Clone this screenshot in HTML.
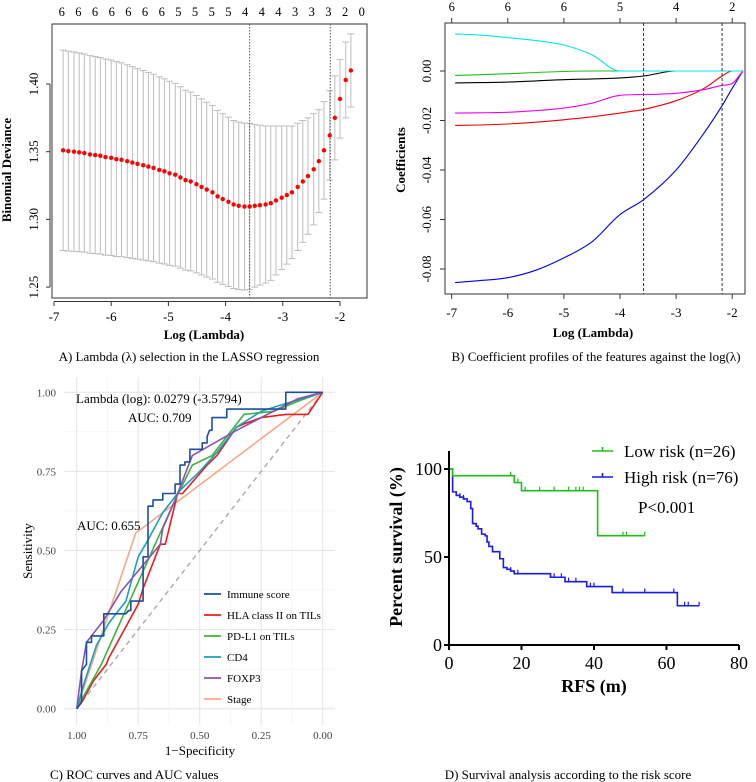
<!DOCTYPE html>
<html><head><meta charset="utf-8"><style>
html,body{margin:0;padding:0;background:#fff;}
svg{display:block;font-family:"Liberation Serif",serif;}
</style></head><body>
<svg id="fig" width="756" height="782" viewBox="0 0 756 782" xmlns="http://www.w3.org/2000/svg">
<g id="pa"></g>
<g id="pb"></g>
<g id="pc"></g>
<g id="pd"></g>
</svg>
<script>
// ---------- Panel A data ----------
const aLogLambda = [-6.84,-6.75,-6.65,-6.56,-6.47,-6.37,-6.28,-6.19,-6.10,-6.00,-5.91,-5.82,-5.72,-5.63,-5.54,-5.44,-5.35,-5.26,-5.16,-5.07,-4.98,-4.88,-4.79,-4.70,-4.61,-4.51,-4.42,-4.33,-4.23,-4.14,-4.05,-3.95,-3.86,-3.77,-3.67,-3.58,-3.49,-3.40,-3.30,-3.21,-3.12,-3.02,-2.93,-2.84,-2.74,-2.65,-2.56,-2.46,-2.37,-2.28,-2.18,-2.09,-2.00,-1.90,-1.81];
const aDeviance = [1.351,1.3505,1.350,1.3495,1.349,1.348,1.3475,1.347,1.346,1.3455,1.3445,1.344,1.343,1.342,1.341,1.340,1.339,1.338,1.3365,1.3355,1.334,1.333,1.331,1.329,1.328,1.326,1.324,1.322,1.320,1.317,1.315,1.313,1.311,1.310,1.3095,1.3095,1.310,1.3105,1.311,1.312,1.314,1.316,1.318,1.320,1.324,1.328,1.332,1.337,1.343,1.351,1.362,1.375,1.389,1.403,1.410];
const aSE = [0.074,0.0738,0.0736,0.0734,0.0732,0.073,0.0728,0.0726,0.0724,0.0722,0.072,0.0716,0.0712,0.0708,0.0704,0.070,0.0696,0.0692,0.0688,0.0684,0.068,0.0675,0.067,0.0665,0.066,0.0655,0.065,0.0645,0.064,0.0635,0.063,0.0625,0.062,0.0618,0.0616,0.0614,0.060,0.059,0.058,0.057,0.055,0.053,0.051,0.049,0.047,0.045,0.043,0.041,0.038,0.036,0.033,0.031,0.029,0.028,0.027];
const aTopLabels = ["6","6","6","6","6","6","6","5","5","5","5","4","4","4","3","3","3","2","0"];
const aXTicks = [-7,-6,-5,-4,-3,-2];
const aYTicks = [1.25,1.30,1.35,1.40];
const aVLines = [-3.58,-2.17];

// ---------- Panel B data ----------
const bGrid = [-6.94,-6.5,-6,-5.5,-5,-4.5,-4,-3.58,-3,-2.5,-2.18,-2,-1.81];
const bCyan = [0.015,0.0145,0.0135,0.0123,0.0105,0.0065,0,0,0,0,0,0,0];
const bGreen = [-0.0018,-0.0015,-0.0011,-0.0006,-0.0002,0,0,0,0,0,0,0,0];
const bBlack = [-0.0048,-0.0047,-0.0045,-0.004,-0.0035,-0.0032,-0.0028,-0.002,0,0,0,0,0];
const bMagenta = [-0.017,-0.0169,-0.0167,-0.016,-0.015,-0.013,-0.0098,-0.0095,-0.009,-0.0075,-0.0058,-0.005,0];
const bRed = [-0.022,-0.0218,-0.0214,-0.0207,-0.0197,-0.0185,-0.017,-0.0155,-0.012,-0.007,-0.002,0,0];
const bBlue = [-0.0855,-0.0847,-0.0835,-0.0805,-0.0755,-0.069,-0.058,-0.052,-0.040,-0.025,-0.014,-0.007,0];
const bTopTicks = [-7,-6,-5,-4,-3,-2];
const bTopLabels = ["6","6","6","5","4","2"];
const bXTicks = [-7,-6,-5,-4,-3,-2];
const bYTicks = [0,-0.02,-0.04,-0.06,-0.08];
const bYLabels = ["0.00","-0.02","-0.04","-0.06","-0.08"];
const bVLines = [-3.58,-2.18];

// ---------- Panel C data (specificity, sensitivity) ----------
const cImmuneSpec = [1,0.98,0.98,0.96,0.96,0.94,0.94,0.89,0.89,0.80,0.79,0.78,0.78,0.73,0.73,0.71,0.71,0.69,0.69,0.65,0.65,0.60,0.60,0.58,0.58,0.56,0.56,0.54,0.54,0.49,0.49,0.47,0.47,0.46,0.45,0.45,0.39,0.39,0.15,0.15,0];
const cImmuneSens = [0,0.02,0.12,0.14,0.21,0.21,0.23,0.23,0.30,0.30,0.31,0.31,0.34,0.34,0.48,0.48,0.64,0.64,0.66,0.66,0.68,0.68,0.71,0.71,0.77,0.77,0.78,0.78,0.82,0.82,0.84,0.84,0.86,0.88,0.88,0.92,0.92,0.947,0.947,1,1];
const cHlaSpec = [1,0.98,0.93,0.88,0.87,0.75,0.73,0.66,0.64,0.59,0.57,0.47,0.43,0.35,0.32,0.25,0.15,0.06,0];
const cHlaSens = [0,0.02,0.09,0.14,0.16,0.33,0.38,0.52,0.52,0.68,0.68,0.77,0.80,0.89,0.90,0.92,0.93,0.93,1];
const cPdl1Spec = [1,0.9,0.75,0.6,0.53,0.45,0.32,0.2,0.106,0];
const cPdl1Sens = [0,0.14,0.40,0.66,0.77,0.80,0.93,0.94,0.97,1];
const cCd4Spec = [1,0.97,0.92,0.87,0.80,0.75,0.72,0.65,0.58,0.50,0.43,0.35,0.25,0.17,0];
const cCd4Sens = [0,0.08,0.20,0.27,0.34,0.48,0.52,0.62,0.69,0.75,0.81,0.89,0.94,0.96,1];
const cFoxp3Spec = [1,0.98,0.96,0.89,0.82,0.66,0.65,0.60,0.53,0.35,0.1,0];
const cFoxp3Sens = [0,0.12,0.21,0.28,0.37,0.52,0.57,0.66,0.80,0.88,0.98,1];
const cStageSpec = [1,0.76,0];
const cStageSens = [0,0.555,1];
const cTicks = [0,0.25,0.5,0.75,1];
const cTickLabels = ["0.00","0.25","0.50","0.75","1.00"];
const cLegendNames = ["Immune score","HLA class II on TILs","PD-L1 on TILs","CD4","FOXP3","Stage"];

// ---------- Panel D data ----------
const dLowTimes = [0,1,18,20,41,54];
const dLowSurv = [100,96.2,92.3,87.7,62.1,62.1];
const dLowCensor = [17,19,21,25,29,33,35,36,37,48,49,54];
const dHighTimes = [0,1,2,3,4,5,6,6.5,7.5,8,9,10,10.5,11,12,14,15,16,17,18,28,32,38,45,63,69];
const dHighSurv = [100,87,85,84,83,81.5,77.5,69,67.5,66,63,62,58.5,56,53,49,44,43,42,40.5,38.5,36,33.2,29.8,22.3,22.3];
const dHighCensor = [3,4,17,19,28,29,31,33,35,39,40,48,54,62,65,66,69];
const dXTicks = [0,20,40,60,80];
const dYTicks = [0,50,100];

const NS = "http://www.w3.org/2000/svg";
function mk(parent, tag, attrs, text){
  const e = document.createElementNS(NS, tag);
  for (const k in attrs) e.setAttribute(k, attrs[k]);
  if (text !== undefined) e.textContent = text;
  parent.appendChild(e);
  return e;
}
// monotone cubic path through pixel points (x increasing)
function monoPath(px, py){
  const n = px.length, dx=[], m=[], t=[];
  for (let i=0;i<n-1;i++){ dx.push(px[i+1]-px[i]); m.push((py[i+1]-py[i])/(px[i+1]-px[i])); }
  t.push(m[0]);
  for (let i=1;i<n-1;i++){ t.push(m[i-1]*m[i]<=0 ? 0 : (m[i-1]+m[i])/2); }
  t.push(m[n-2]);
  for (let i=0;i<n-1;i++){
    if (m[i]===0){ t[i]=0; t[i+1]=0; continue; }
    const a=t[i]/m[i], b=t[i+1]/m[i], s=a*a+b*b;
    if (s>9){ const k=3/Math.sqrt(s); t[i]=k*a*m[i]; t[i+1]=k*b*m[i]; }
  }
  let d = `M${px[0].toFixed(1)},${py[0].toFixed(1)}`;
  for (let i=0;i<n-1;i++){
    const h=dx[i]/3;
    d += `C${(px[i]+h).toFixed(1)},${(py[i]+t[i]*h).toFixed(1)} ${(px[i+1]-h).toFixed(1)},${(py[i+1]-t[i+1]*h).toFixed(1)} ${px[i+1].toFixed(1)},${py[i+1].toFixed(1)}`;
  }
  return d;
}

// ================= Panel A =================
(function(){
  const g = document.getElementById('pa');
  const X = v => 54 + (v + 7) * 57.2;
  const Y = v => 84 + (1.40 - v) / 0.05 * 67.7;
  let e;
  for (let i=0;i<aLogLambda.length;i++){
    const x=X(aLogLambda[i]), y1=Y(aDeviance[i]+aSE[i]), y2=Y(aDeviance[i]-aSE[i]);
    e = mk(g,'path',{d:`M${x},${y1}V${y2}M${x-3.5},${y1}H${x+3.5}M${x-3.5},${y2}H${x+3.5}`,stroke:'#bdbdbd','stroke-width':1,fill:'none'});
     
  }
  e = mk(g,'rect',{x:52,y:24,width:315,height:274,fill:'none',stroke:'#333','stroke-width':1});
   
  aVLines.forEach(v=>{
    e = mk(g,'line',{x1:X(v),x2:X(v),y1:24,y2:298,stroke:'#555','stroke-width':1,'stroke-dasharray':'1.5,1.5'});
     
  });
  for (let i=0;i<aLogLambda.length;i++){
    e = mk(g,'circle',{cx:X(aLogLambda[i]),cy:Y(aDeviance[i]),r:2.2,fill:'#f00'});
     
  }
  e = mk(g,'line',{x1:X(-7),x2:X(-2),y1:301.5,y2:301.5,stroke:'#333'});
   
  aXTicks.forEach(t=>{
    mk(g,'line',{x1:X(t),x2:X(t),y1:301.5,y2:306,stroke:'#333'});
    e = mk(g,'text',{x:X(t),y:321,'font-size':13,'text-anchor':'middle'},String(t));
     
  });
  aYTicks.forEach(t=>{
    mk(g,'line',{x1:46,x2:50,y1:Y(t),y2:Y(t),stroke:'#333'});
    e = mk(g,'text',{x:0,y:0,'font-size':13,'text-anchor':'middle',transform:`translate(38,${Y(t)}) rotate(-90)`},t.toFixed(2));
     
  });
  e = mk(g,'line',{x1:50,x2:50,y1:Y(1.25),y2:Y(1.40),stroke:'#333'});
   
  aTopLabels.forEach((s,i)=>{
    e = mk(g,'text',{x:61.7+i*16.67,y:16,'font-size':12.5,'text-anchor':'middle'},s);
     
  });
  e = mk(g,'text',{x:204,y:339,'font-size':13,'font-weight':'bold','text-anchor':'middle'},'Log (Lambda)');
   
  e = mk(g,'text',{x:0,y:0,'font-size':13,'font-weight':'bold','text-anchor':'middle',transform:'translate(11,170) rotate(-90)'},'Binomial Deviance');
   
  e = mk(g,'text',{x:189,y:361,'font-size':13,'text-anchor':'middle'},'A) Lambda (λ) selection in the LASSO regression');
   
})();

// ================= Panel B =================
(function(){
  const g = document.getElementById('pb');
  const X = v => 451.7 + (v + 7) * 56.1;
  const Y = v => 71 - v * 2475;
  let e;
  e = mk(g,'rect',{x:445,y:23,width:300,height:271,fill:'none',stroke:'#333','stroke-width':1});
   
  const series = [[bCyan,'#00e5ee','cyan-coef'],[bGreen,'#22bb22','green-coef'],[bBlack,'#000','black-coef'],[bMagenta,'#ee00ee','magenta-coef'],[bRed,'#e00','red-coef'],[bBlue,'#0000ee','blue-coef']];
  series.slice().reverse().forEach(([arr,col,name])=>{
    const d = monoPath(bGrid.map(X), arr.map(Y));
    e = mk(g,'path',{d:d,fill:'none',stroke:col,'stroke-width':1.1,'stroke-linejoin':'round'});
     
  });
  bVLines.forEach(v=>{
    e = mk(g,'line',{x1:X(v),x2:X(v),y1:23,y2:294,stroke:'#333','stroke-width':1,'stroke-dasharray':'3,2'});
     
  });
  bXTicks.forEach(t=>{
    mk(g,'line',{x1:X(t),x2:X(t),y1:294,y2:299,stroke:'#333'});
    e = mk(g,'text',{x:X(t),y:317,'font-size':13,'text-anchor':'middle'},String(t));
     
  });
  bTopTicks.forEach((t,i)=>{
    mk(g,'line',{x1:X(t),x2:X(t),y1:23,y2:18,stroke:'#333'});
    e = mk(g,'text',{x:X(t),y:11,'font-size':12.5,'text-anchor':'middle'},bTopLabels[i]);
     
  });
  bYTicks.forEach((t,i)=>{
    mk(g,'line',{x1:440,x2:445,y1:Y(t),y2:Y(t),stroke:'#333'});
    e = mk(g,'text',{x:0,y:0,'font-size':13,'text-anchor':'middle',transform:`translate(431,${Y(t)}) rotate(-90)`},bYLabels[i]);
     
  });
  e = mk(g,'text',{x:593,y:337,'font-size':13,'font-weight':'bold','text-anchor':'middle'},'Log (Lambda)');
   
  e = mk(g,'text',{x:0,y:0,'font-size':13,'font-weight':'bold','text-anchor':'middle',transform:'translate(405,160) rotate(-90)'},'Coefficients');
   
  e = mk(g,'text',{x:596,y:361,'font-size':13,'text-anchor':'middle'},'B) Coefficient profiles of the features against the log(λ)');
   
})();

// ================= Panel C =================
(function(){
  const g = document.getElementById('pc');
  const X = s => 76.7 + (1 - s) * 246;
  const Y = v => 708.7 - v * 316.4;
  let e;
  for (let k=0;k<=8;k++){
    const v=k/8, major = k%2===0;
    mk(g,'line',{x1:64,x2:335,y1:Y(v),y2:Y(v),stroke:major?'#e4e4e4':'#f0f0f0','stroke-width':major?1:0.6});
    mk(g,'line',{x1:X(v),x2:X(v),y1:377,y2:725,stroke:major?'#e4e4e4':'#f0f0f0','stroke-width':major?1:0.6});
  }
  e = mk(g,'line',{x1:X(1),y1:Y(0),x2:X(0),y2:Y(1),stroke:'#aaa','stroke-width':1.4,'stroke-dasharray':'5,4'});
   
  const cols = ['#1f4e9c','#ee1c1c','#3cb43c','#1aa0c0','#8e52b0','#f7a888'];
  const curves = [[cImmuneSpec,cImmuneSens],[cHlaSpec,cHlaSens],[cPdl1Spec,cPdl1Sens],[cCd4Spec,cCd4Sens],[cFoxp3Spec,cFoxp3Sens],[cStageSpec,cStageSens]];
  const names = ['roc-immune-score','roc-hla-class-ii','roc-pd-l1','roc-cd4','roc-foxp3','roc-stage'];
  [5,1,2,3,4,0].forEach(i=>{
    const [sx,sy]=curves[i];
    const d = sx.map((s,j)=>(j?'L':'M')+X(s).toFixed(1)+','+Y(sy[j]).toFixed(1)).join('');
    e = mk(g,'path',{d:d,fill:'none',stroke:cols[i],'stroke-width':1.6,'stroke-linejoin':'round'});
     
  });
  cTicks.forEach((t,i)=>{
    e = mk(g,'text',{x:56,y:Y(t)+4,'font-size':11,'text-anchor':'end',fill:'#444'},cTickLabels[i]);
     
    e = mk(g,'text',{x:X(t),y:739,'font-size':11,'text-anchor':'middle',fill:'#444'},cTickLabels[i]);
     
  });
  e = mk(g,'text',{x:200,y:755,'font-size':13,'text-anchor':'middle'},'1−Specificity');
   
  e = mk(g,'text',{x:0,y:0,'font-size':13,'text-anchor':'middle',transform:'translate(32,551) rotate(-90)'},'Sensitivity');
   
  e = mk(g,'text',{x:76,y:403,'font-size':13},'Lambda (log): 0.0279 (-3.5794)');
   
  e = mk(g,'text',{x:128,y:422,'font-size':13},'AUC: 0.709');
   
  e = mk(g,'text',{x:77,y:530,'font-size':13},'AUC: 0.655');
   
  cLegendNames.forEach((n,i)=>{
    const y = 594 + i*21;
    e = mk(g,'line',{x1:204,x2:221,y1:y,y2:y,stroke:cols[i],'stroke-width':1.8});
     
    e = mk(g,'text',{x:227,y:y+4,'font-size':11},n);
     
  });
  e = mk(g,'text',{x:50,y:779,'font-size':13},'C) ROC curves and AUC values');
   
})();

// ================= Panel D =================
(function(){
  const g = document.getElementById('pd');
  const X = t => 449 + t * 3.625;
  const Y = v => 645 - v * 1.76;
  let e;
  function km(times,surv,censor,col,name){
    let d = `M${X(times[0])},${Y(surv[0])}`;
    for (let i=1;i<times.length;i++){ d += `H${X(times[i])}V${Y(surv[i])}`; }
    e = mk(g,'path',{d:d,fill:'none',stroke:col,'stroke-width':1.6});
     
    censor.forEach(t=>{
      let s = surv[0];
      for (let i=0;i<times.length;i++) if (times[i]<=t) s = surv[i];
      e = mk(g,'line',{x1:X(t),x2:X(t),y1:Y(s)-4,y2:Y(s),stroke:col,'stroke-width':1.2});
       
    });
  }
  km(dHighTimes,dHighSurv,dHighCensor,'#1a1aee','high-risk');
  km(dLowTimes,dLowSurv,dLowCensor,'#22bb22','low-risk');
  e = mk(g,'path',{d:`M449,451V645H739`,fill:'none',stroke:'#000','stroke-width':2});
   
  dXTicks.forEach(t=>{
    mk(g,'line',{x1:X(t),x2:X(t),y1:645,y2:650,stroke:'#000','stroke-width':2});
    e = mk(g,'text',{x:X(t),y:669,'font-size':18,'text-anchor':'middle'},String(t));
     
  });
  dYTicks.forEach(t=>{
    mk(g,'line',{x1:444,x2:449,y1:Y(t),y2:Y(t),stroke:'#000','stroke-width':2});
    e = mk(g,'text',{x:442,y:Y(t)+6,'font-size':18,'text-anchor':'end'},String(t));
     
  });
  e = mk(g,'text',{x:594,y:692,'font-size':18,'font-weight':'bold','text-anchor':'middle'},'RFS (m)');
   
  e = mk(g,'text',{x:0,y:0,'font-size':18,'font-weight':'bold','text-anchor':'middle',transform:'translate(402,547) rotate(-90)'},'Percent survival (%)');
   
  [['Low risk (n=26)','#22bb22',451],['High risk (n=76)','#1a1aee',477]].forEach(([t,c,y])=>{
    e = mk(g,'path',{d:`M592,${y}H613M602.5,${y-4}V${y}`,stroke:c,'stroke-width':1.6,fill:'none'});
     
    e = mk(g,'text',{x:624,y:y+6,'font-size':17},t);
     
  });
  e = mk(g,'text',{x:638,y:513,'font-size':17},'P<0.001');
   
  e = mk(g,'text',{x:568,y:779,'font-size':13,'text-anchor':'middle'},'D) Survival analysis according to the risk score');
   
})();
</script>
</body></html>
